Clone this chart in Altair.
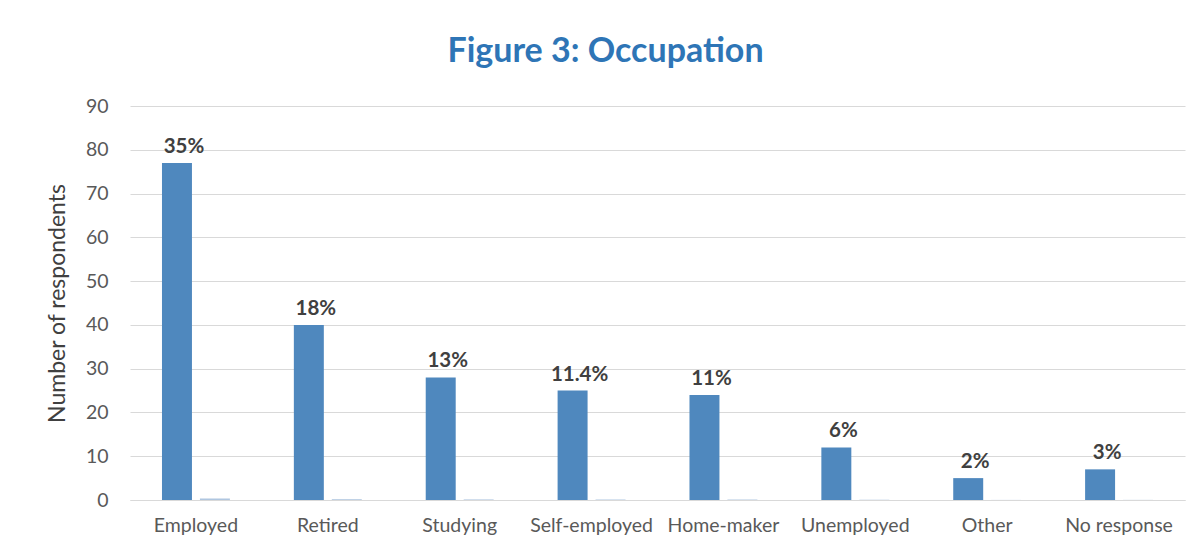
import altair as alt
import pandas as pd

categories = ["Employed", "Retired", "Studying", "Self-employed", "Home-maker",
              "Unemployed", "Other", "No response"]
counts = [77, 40, 28, 25, 24, 12, 5, 7]
shares = [0.35, 0.18, 0.13, 0.114, 0.11, 0.06, 0.02, 0.03]
share_labels = ["35%", "18%", "13%", "11.4%", "11%", "6%", "2%", "3%"]
y_ticks = [0, 10, 20, 30, 40, 50, 60, 70, 80, 90]

rows = []
for c, n, s, lab in zip(categories, counts, shares, share_labels):
    rows.append({"category": c, "series": "a_count", "value": n, "label": lab})
    rows.append({"category": c, "series": "b_share", "value": s, "label": ""})
df = pd.DataFrame(rows)

FONT = "Lato"

x = alt.X("category:N", sort=categories, title=None,
          scale=alt.Scale(paddingInner=0.485, paddingOuter=0.2425),
          axis=alt.Axis(labelAngle=0, labelFontSize=19.5, labelColor="#595959",
                        labelFont=FONT, labelPadding=16, ticks=False,
                        domainColor="#d9d9d9", domainWidth=1))
xo = alt.XOffset("series:N", scale=alt.Scale(paddingInner=0.21, paddingOuter=0))
y = alt.Y("value:Q", title="Number of respondents",
          scale=alt.Scale(domain=[0, 90], nice=False),
          axis=alt.Axis(values=y_ticks, labelFontSize=19.5, labelColor="#595959",
                        labelFont=FONT, labelPadding=22, ticks=False, domain=False,
                        gridColor="#d9d9d9", gridWidth=1,
                        titleFontSize=23, titleColor="#404040", titleFont=FONT,
                        titleFontWeight="normal", titlePadding=16))

bars = alt.Chart(df).mark_bar().encode(
    x=x, xOffset=xo, y=y,
    color=alt.Color("series:N", legend=None,
                    scale=alt.Scale(domain=["a_count", "b_share"],
                                    range=["#4F88BE", "#AFC6E0"])),
)

labels = alt.Chart(df[df["series"] == "a_count"]).mark_text(
    baseline="alphabetic", dy=-10, dx=7, fontSize=20.5, fontWeight="bold",
    color="#404040", font=FONT
).encode(
    x=alt.X("category:N", sort=categories),
    xOffset=alt.XOffset("series:N"),
    y=alt.Y("value:Q"),
    text="label:N",
)

chart = alt.layer(bars, labels).resolve_scale(xOffset="shared").properties(
    width=1055, height=394,
    autosize="none",
    padding={"left": 122, "top": 98, "right": 10, "bottom": 45},
    title=alt.TitleParams("Figure 3: Occupation", fontSize=34, fontWeight="bold",
                          color="#2E75B6", font=FONT, anchor="middle", dx=-52,
                          offset=27),
).configure_view(stroke=None)

chart.save("out.html", embed_options={"renderer": "svg", "actions": False})
